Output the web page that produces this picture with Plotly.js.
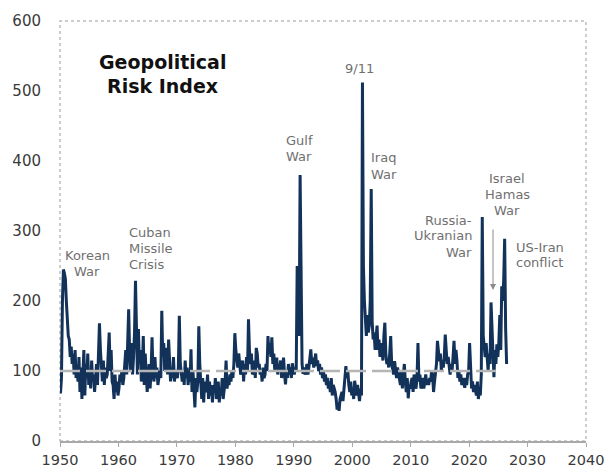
<!DOCTYPE html>
<html>
<head>
<meta charset="utf-8">
<script src="https://cdn.plot.ly/plotly-3.0.1.min.js"></script>
<style>
  html, body { margin: 0; padding: 0; background: #fff; }
  #chart { width: 606px; height: 468px; }
</style>
</head>
<body>
<div id="chart"></div>
<script>
// Geopolitical Risk Index, bimonthly readings (6 per year)
const startYear = 1950;
const perYear = 6;

const gpr1950s = [
  68, 90, 200, 245, 240, 232,
  200, 175, 150, 145, 120, 135,
  110, 125, 95, 130, 90, 100,
  85, 120, 70, 105, 60, 95,
  130, 65, 110, 90, 125, 80,
  100, 75, 115, 85, 95, 70,
  90, 110, 80, 120, 168, 130,
  100, 85, 115, 80, 105, 90,
  95, 120, 155, 100, 130, 85,
  80, 60, 95, 70, 85, 65
];
const gpr1960s = [
  75, 95, 85, 100, 80, 90,
  110, 130, 95, 150, 188, 125,
  100, 140, 95, 120, 155, 229,
  140, 95, 160, 110, 130, 85,
  100, 150, 80, 125, 95, 70,
  90, 110, 75, 100, 148, 95,
  85, 120, 90, 105, 80, 95,
  100, 90, 186, 120, 140, 100,
  110, 133, 95, 145, 100, 85,
  105, 90, 120, 85, 100, 95
];
const gpr1970s = [
  90, 105, 179, 110, 95, 85,
  100, 80, 115, 90, 105, 80,
  95, 85, 131, 70, 100, 75,
  48, 90, 70, 85, 164, 110,
  80, 60, 90, 55, 85, 70,
  75, 95, 60, 85, 65, 80,
  55, 80, 70, 90, 60, 75,
  85, 55, 75, 65, 90, 60,
  70, 85, 115, 75, 90, 80,
  95, 85, 100, 90, 110, 154
];
const gpr1980s = [
  130, 120, 105, 125, 110, 95,
  100, 115, 85, 110, 95, 120,
  100, 174, 130, 110, 125, 95,
  100, 115, 90, 133, 125, 105,
  110, 95, 100, 85, 105, 90,
  95, 110, 100, 150, 125, 140,
  120, 148, 110, 125, 100, 115,
  119, 95, 110, 100, 115, 90,
  105, 119, 95, 81, 100, 90,
  110, 95, 105, 90, 111, 100
];
const gpr1990s = [
  95, 105, 100, 250, 200, 150,
  380, 180, 110, 96, 105, 95,
  100, 110, 95, 105, 120, 131,
  110, 119, 105, 115, 125, 107,
  115, 100, 110, 95, 105, 90,
  100, 85, 95, 80, 90, 75,
  85, 70, 90, 65, 80, 75,
  70, 60, 45, 55, 43, 60,
  65, 70, 57, 75, 80, 107,
  90, 100, 80, 70, 85, 65
];
const gpr2000s = [
  75, 60, 86, 70, 65, 80,
  70, 57, 75, 65, 512, 250,
  200, 170, 150, 180, 155, 165,
  200, 360, 170, 145, 155, 130,
  150, 165, 130, 145, 120, 140,
  130, 115, 150, 169, 125, 110,
  115, 105, 125, 150, 110, 100,
  95, 114, 100, 90, 105, 95,
  90, 80, 100, 75, 95, 110,
  85, 70, 90, 61, 80, 75
];
const gpr2010s = [
  85, 90, 70, 95, 80, 75,
  90, 140, 85, 95, 75, 80,
  90, 75, 85, 95, 80, 88,
  80, 90, 85, 100, 95, 70,
  85, 95, 110, 143, 120, 114,
  125, 100, 115, 105, 120, 152,
  130, 110, 120, 100, 95, 110,
  100, 120, 143, 110, 130, 115,
  90, 100, 85, 95, 80, 90,
  85, 76, 90, 80, 95, 100
];
const gpr2020s = [
  140, 90, 75, 85, 70, 80,
  70, 65, 85, 60, 75, 65,
  95, 320, 150, 135, 120, 140,
  115, 100, 125, 110, 198, 150,
  125, 91, 130, 110, 138, 120,
  140, 180, 130, 221, 200, 230,
  289, 160, 110
];

const baselineValue = 100;
const baselineYears = [1950, 2024.6];

const xTicks = [1950, 1960, 1970, 1980, 1990, 2000, 2010, 2020, 2030, 2040];

const gprValues = [].concat(gpr1950s, gpr1960s, gpr1970s, gpr1980s,
                            gpr1990s, gpr2000s, gpr2010s, gpr2020s);
const gprDates = gprValues.map((v, i) => startYear + (i + 0.5) / perYear);

const traces = [
  {
    x: gprDates, y: gprValues, type: 'scatter', mode: 'lines',
    line: { color: '#12325a', width: 3 },
    hoverinfo: 'skip'
  },
  {
    x: baselineYears, y: [baselineValue, baselineValue], type: 'scatter', mode: 'lines',
    line: { color: '#b5b5b5', width: 2.5, dash: '20px,6px' },
    hoverinfo: 'skip'
  }
];

// plot area in pixels: left 60, right 586, top 21, bottom 441
const L = 60, R = 586, T = 21, B = 441;
function px2paper(px, py) { return [(px - L) / (R - L), (B - py) / (B - T)]; }
function lbl(text, px, py, anchor, size, color, bold) {
  const p = px2paper(px, py);
  return {
    text: bold ? '<b>' + text + '</b>' : text,
    xref: 'paper', yref: 'paper', x: p[0], y: p[1],
    xanchor: anchor, yanchor: 'middle', showarrow: false,
    font: { family: 'DejaVu Sans, Arial, sans-serif', size: size, color: color }
  };
}
const grey = '#707070';
const annotations = [
  lbl('Geopolitical', 162, 62, 'center', 19, '#111', true),
  lbl('Risk Index', 162, 86, 'center', 19, '#111', true),
  lbl('Korean', 87, 255, 'center', 13, grey),
  lbl('War', 87, 271, 'center', 13, grey),
  lbl('Cuban', 127, 232, 'left', 13, grey),
  lbl('Missile', 127, 248, 'left', 13, grey),
  lbl('Crisis', 127, 264, 'left', 13, grey),
  lbl('Gulf', 299, 140, 'center', 13, grey),
  lbl('War', 299, 156, 'center', 13, grey),
  lbl('9/11', 359, 68, 'center', 13, grey),
  lbl('Iraq', 369, 158, 'left', 13, grey),
  lbl('War', 369, 174, 'left', 13, grey),
  lbl('Russia-', 474, 220, 'right', 13, grey),
  lbl('Ukranian', 474, 236, 'right', 13, grey),
  lbl('War', 474, 252, 'right', 13, grey),
  lbl('Israel', 507, 178, 'center', 13, grey),
  lbl('Hamas', 507, 194, 'center', 13, grey),
  lbl('War', 507, 211, 'center', 13, grey),
  lbl('US-Iran', 514, 247, 'left', 13, grey),
  lbl('conflict', 514, 262, 'left', 13, grey)
];
// arrow for Israel-Hamas
(function () {
  const p = px2paper(493, 290);
  annotations.push({
    xref: 'paper', yref: 'paper', x: p[0], y: p[1], text: '',
    showarrow: true, ax: 0, ay: -62, arrowhead: 2, arrowsize: 1.2,
    arrowwidth: 1, arrowcolor: '#8a8a8a'
  });
})();

const layout = {
  width: 606, height: 468,
  margin: { l: L, r: 606 - R, t: T, b: 468 - B, pad: 0 },
  paper_bgcolor: '#ffffff', plot_bgcolor: '#ffffff',
  showlegend: false,
  font: { family: 'DejaVu Sans, Arial, sans-serif', color: '#3a3a3a' },
  xaxis: {
    range: [1950, 2040], tickvals: xTicks, ticktext: xTicks.map(String),
    showgrid: false, zeroline: false,
    showline: true, linecolor: '#a8a8a8', linewidth: 1.5,
    ticks: 'outside', ticklen: 4, tickcolor: '#a8a8a8', tickwidth: 1,
    ticklabelstandoff: 1,
    tickfont: { size: 14.5, color: '#3a3a3a' }
  },
  yaxis: {
    range: [0, 600], dtick: 100,
    showgrid: false, zeroline: false, showline: false,
    ticks: '', ticklabelstandoff: 18,
    tickfont: { size: 15, color: '#3a3a3a' }
  },
  shapes: [
    { type: 'rect', xref: 'paper', yref: 'paper', x0: 0, x1: 1, y0: 0, y1: 1,
      line: { color: '#bdbdbd', width: 1.5, dash: 'dot' }, layer: 'below' }
  ],
  annotations: annotations
};

Plotly.newPlot('chart', traces, layout, { staticPlot: true, displayModeBar: false });
</script>
</body>
</html>
